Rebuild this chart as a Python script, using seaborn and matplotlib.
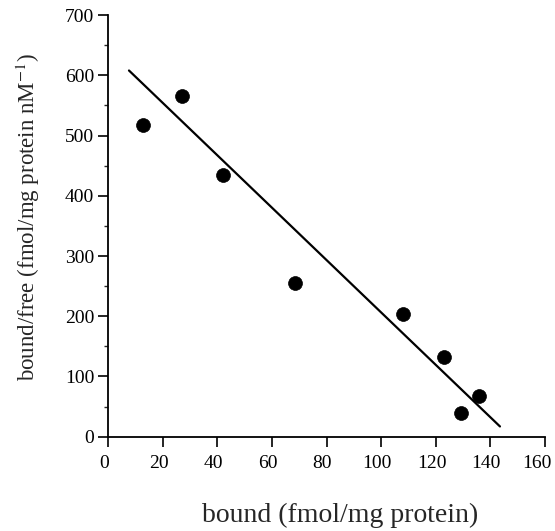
import numpy as np
import pandas as pd
import seaborn as sns
import matplotlib.pyplot as plt
import matplotlib.transforms as mtransforms
from matplotlib.ticker import MultipleLocator

# Scatchard data
bound = [12.6, 26.9, 42.0, 68.4, 107.9, 123.0, 129.4, 135.8]
bound_free = [517, 566, 435, 256, 204, 133, 39, 68]

# fitted line endpoints as drawn
fit_x = [7.6, 143.5]
fit_y = [608, 17]

xticks = [0, 20, 40, 60, 80, 100, 120, 140, 160]
yticks = [0, 100, 200, 300, 400, 500, 600, 700]

sns.set_theme(style='ticks')
plt.rcParams['font.family'] = ['Liberation Serif', 'DejaVu Serif']
plt.rcParams['mathtext.fontset'] = 'stix'

df = pd.DataFrame({'bound': bound, 'bf': bound_free})
fit = pd.DataFrame({'x': fit_x, 'y': fit_y})

fig = plt.figure(figsize=(5.55, 5.31), dpi=100)
ax = fig.add_axes([0.195, 0.1776, 0.787, 0.794])

sns.lineplot(data=fit, x='x', y='y', color='black', linewidth=1.6, ax=ax)
sns.scatterplot(data=df, x='bound', y='bf', color='black', s=100, edgecolor='black', linewidth=0.5, ax=ax, zorder=5)

ax.set_xlim(0, 160)
ax.set_ylim(0, 700)
ax.set_xticks(xticks)
ax.set_yticks(yticks)
ax.yaxis.set_minor_locator(MultipleLocator(50))
ax.tick_params(axis='both', which='major', direction='out', length=7, width=1.2, labelsize=14, colors='black')
ax.tick_params(axis='y', which='minor', direction='out', length=3, width=1.0)
ax.tick_params(axis='x', pad=6)
ax.tick_params(axis='y', pad=3)
sns.despine(ax=ax)
for sp in ['left', 'bottom']:
    ax.spines[sp].set_linewidth(1.3)
    ax.spines[sp].set_color('black')

# x tick labels sit slightly left of their ticks in the original
labels = ax.get_xticklabels()
for i, lab in enumerate(labels):
    dx = -6 / 72 if i == len(labels) - 1 else -3 / 72
    lab.set_transform(lab.get_transform() + mtransforms.ScaledTranslation(dx, 0, fig.dpi_scale_trans))

ax.set_xlabel('bound (fmol/mg protein)', fontsize=20)
ax.xaxis.set_label_coords(0.53, -0.158)
ax.set_ylabel('bound/free (fmol/mg protein nM$^{-1}$)', fontsize=16.5)
ax.yaxis.set_label_coords(-0.152, 0.521)

fig.savefig('out.png', dpi=100)
